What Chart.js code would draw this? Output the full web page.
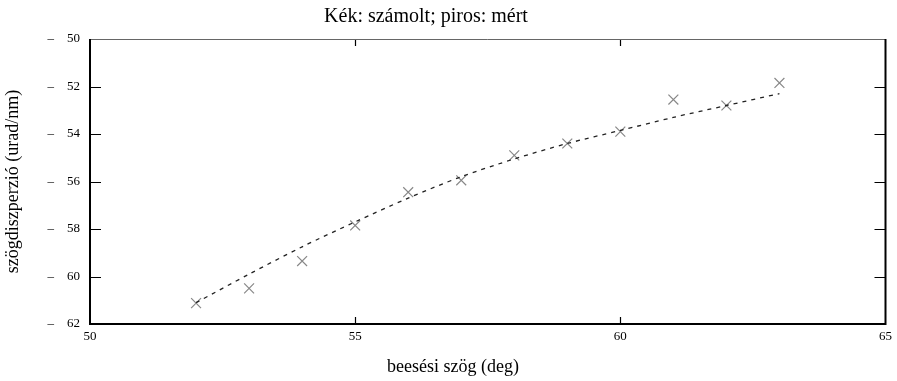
<!DOCTYPE html>
<html>
<head>
<meta charset="utf-8">
<script src="https://cdn.jsdelivr.net/npm/chart.js@4.4.1/dist/chart.umd.min.js"></script>
<style>
  html, body { margin: 0; padding: 0; background: #fff; }
  #wrap { width: 897px; height: 381px; }
</style>
</head>
<body>
<div id="wrap"><canvas id="myChart" width="897" height="381"></canvas></div>
<script>
// measured points (crosses)
const angles = [52, 53, 54, 55, 56, 57, 58, 59, 60, 61, 62, 63];
const measured = [61.12, 60.5, 59.35, 57.85, 56.45, 55.95, 54.9, 54.4, 53.9, 52.55, 52.8, 51.85];
// computed curve (dashed)
const computed = [61.1, 59.9, 58.75, 57.7, 56.7, 55.8, 55.05, 54.4, 53.85, 53.3, 52.8, 52.3];

const xTicks = [50, 55, 60, 65];
const yTicks = [50, 52, 54, 56, 58, 60, 62];

const titleText = 'Kék: számolt; piros: mért';
const xTitleText = 'beesési szög (deg)';
const yTitleText = 'szögdiszperzió (urad/nm)';

const serif = "'Liberation Serif', 'DejaVu Serif', serif";

// inner tick marks + frame, gnuplot style; titles placed like the original
const frame = {
	id: 'frame',
	afterDraw(chart) {
		const { ctx, chartArea: a, scales } = chart;
		const x = scales.x, y = scales.y;
		ctx.save();
		ctx.strokeStyle = '#000';
		ctx.lineWidth = 1.2;
		yTicks.forEach(v => {
			if (v === 50 || v === 62) return;
			const py = Math.round(y.getPixelForValue(v)) + 0.5;
			ctx.beginPath();
			ctx.moveTo(a.left, py); ctx.lineTo(a.left + 11, py);
			ctx.moveTo(a.right, py); ctx.lineTo(a.right - 11, py);
			ctx.stroke();
		});
		xTicks.forEach(v => {
			if (v === 50 || v === 65) return;
			const px = Math.round(x.getPixelForValue(v)) + 0.5;
			ctx.beginPath();
			ctx.moveTo(px, a.bottom); ctx.lineTo(px, a.bottom - 7);
			ctx.moveTo(px, a.top); ctx.lineTo(px, a.top + 7);
			ctx.stroke();
		});
		// top border lighter
		ctx.strokeStyle = '#666';
		ctx.lineWidth = 1;
		ctx.beginPath();
		ctx.moveTo(a.left, a.top + 0.5); ctx.lineTo(a.right, a.top + 0.5);
		ctx.stroke();
		ctx.strokeStyle = '#000';
		ctx.lineWidth = 2;
		ctx.beginPath();
		ctx.moveTo(a.left, a.top); ctx.lineTo(a.left, a.bottom);
		ctx.lineTo(a.right, a.bottom); ctx.lineTo(a.right, a.top);
		ctx.stroke();

		ctx.fillStyle = '#000';
		ctx.textAlign = 'center';
		ctx.textBaseline = 'middle';
		ctx.font = '20px ' + serif;
		ctx.fillText(titleText, 426, 17);
		ctx.font = '18px ' + serif;
		ctx.fillText(xTitleText, 453, 367);
		ctx.restore();
	}
};

const ctx = document.getElementById('myChart').getContext('2d');
new Chart(ctx, {
	type: 'scatter',
	data: {
		datasets: [{
			label: 'számolt',
			data: angles.map((a, i) => ({ x: a, y: computed[i] })),
			showLine: true,
			borderColor: '#222',
			borderWidth: 1.3,
			borderDash: [4, 5],
			pointRadius: 0,
			tension: 0.3
		}, {
			label: 'mért',
			data: angles.map((a, i) => ({ x: a, y: measured[i] })),
			showLine: false,
			pointStyle: 'crossRot',
			pointRadius: 7,
			borderColor: '#888',
			backgroundColor: '#888',
			pointBorderWidth: 1.2
		}]
	},
	options: {
		responsive: false,
		animation: false,
		layout: { padding: { left: 0, right: 11, top: 39, bottom: 0 } },
		plugins: {
			legend: { display: false },
			tooltip: { enabled: false },
			title: { display: false }
		},
		scales: {
			x: {
				type: 'linear',
				min: 50, max: 65,
				afterBuildTicks: s => { s.ticks = xTicks.map(v => ({ value: v })); },
				grid: { display: false, drawTicks: false },
				border: { display: false },
				ticks: { color: '#000', padding: 5, font: { family: serif, size: 13 } },
				afterFit: s => { s.height = 57; }
			},
			y: {
				type: 'linear',
				reverse: true,
				min: 50, max: 62,
				afterBuildTicks: s => { s.ticks = yTicks.map(v => ({ value: v })); },
				grid: { display: false, drawTicks: false },
				border: { display: false },
				ticks: {
					color: '#000', padding: 10,
					font: { family: serif, size: 13 },
					callback: v => '–    ' + v
				},
				title: {
					display: true,
					text: yTitleText,
					color: '#000',
					font: { family: serif, size: 18 },
					padding: { top: 2, bottom: 0 }
				},
				afterFit: s => { s.width = 90; }
			}
		}
	},
	plugins: [frame]
});
</script>
</body>
</html>
